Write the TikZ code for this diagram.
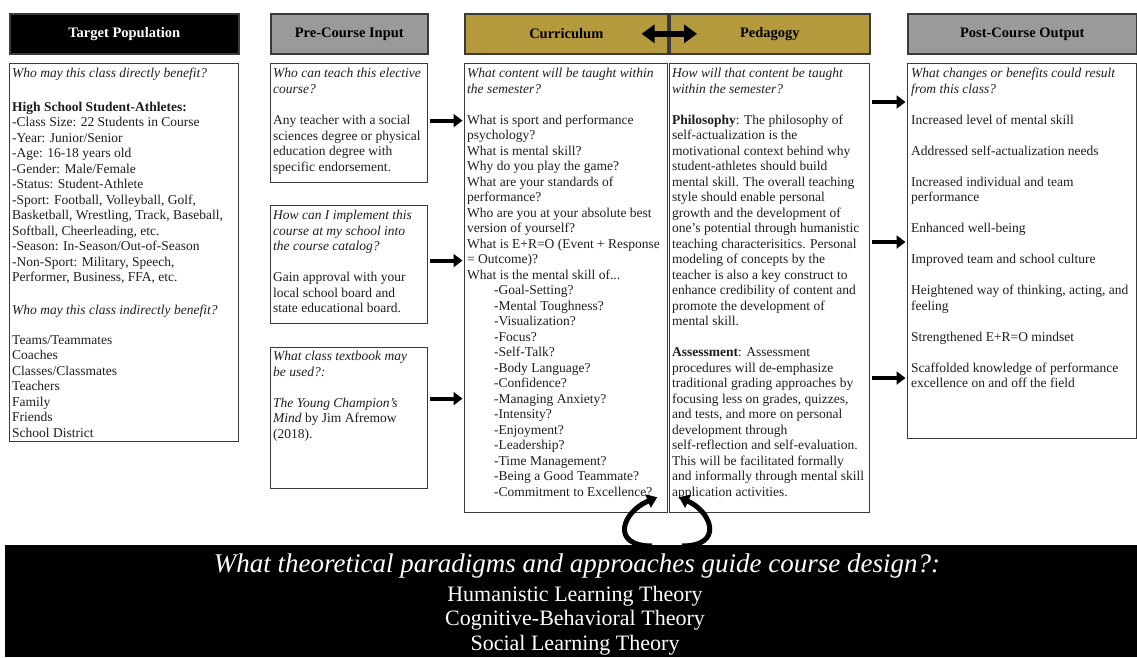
\documentclass[tikz,border=0pt]{standalone}
\usepackage{fontspec}
\setmainfont{Liberation Serif}
\usetikzlibrary{arrows.meta,calc}
\definecolor{gold}{HTML}{B5993D}
\definecolor{hgray}{HTML}{9A9A9A}
\definecolor{edge}{HTML}{3A3A3A}
\definecolor{ink}{HTML}{1E1E1E}
\begin{document}
\begin{tikzpicture}[x=1pt,y=-1pt,
  hdr/.style={draw=edge, line width=1.6pt, anchor=north west, inner sep=0,
    minimum height=40pt, font=\fontsize{14.5}{16}\selectfont\bfseries},
  boxx/.style={draw=edge, line width=1.2pt, anchor=north west, inner sep=0, fill=white},
  txt/.style={anchor=north west, inner sep=0, align=left, text=ink,
    font=\fontsize{13.5}{15.5}\selectfont},
  fat/.style={line width=4pt, -{Triangle[length=9pt,width=13pt]}},
  dbl/.style={line width=6pt, {Triangle[length=13pt,width=18pt]}-{Triangle[length=13pt,width=18pt]}},
  curl/.style={line width=5pt, -{Triangle[length=10pt,width=14pt]}},
]
\useasboundingbox (0,0) rectangle (1137,657);
\fill[white] (0,0) rectangle (1137,657);

% headers
\node[hdr, fill=black, text=white, minimum width=229pt] (tph) at (9,13) {Target Population};
\node[hdr, fill=hgray, minimum width=157pt] (pch) at (270,13) {Pre-Course Input};
\node[hdr, fill=gold, minimum width=203pt] (curh) at (464,13) {Curriculum};
\node[hdr, fill=gold, minimum width=200pt] (pedh) at (669,13) {Pedagogy};
\node[hdr, fill=hgray, minimum width=229pt] (posth) at (907,13) {Post-Course Output};

% boxes
\node[boxx, minimum width=229pt, minimum height=378pt] (tp) at (9,63) {};
\node[boxx, minimum width=157pt, minimum height=119pt] (teach) at (270,63) {};
\node[boxx, minimum width=157pt, minimum height=118pt] (impl) at (270,205) {};
\node[boxx, minimum width=157pt, minimum height=141pt] (book) at (270,347) {};
\node[boxx, minimum width=203pt, minimum height=449pt] (curr) at (464,63) {};
\node[boxx, minimum width=200pt, minimum height=449pt] (ped) at (669,63) {};
\node[boxx, minimum width=229pt, minimum height=375pt] (post) at (907,63) {};

% texts
\node[txt] (tpt) at (12,68) {\textit{Who may this class directly benefit?}\\[18pt]
\textbf{High School Student-Athletes:}\\
-Class Size: 22 Students in Course\\
-Year: Junior/Senior\\
-Age: 16-18 years old\\
-Gender: Male/Female\\
-Status: Student-Athlete\\
-Sport: Football, Volleyball, Golf,\\
Basketball, Wrestling, Track, Baseball,\\
Softball, Cheerleading, etc.\\
-Season: In-Season/Out-of-Season\\
-Non-Sport: Military, Speech,\\
Performer, Business, FFA, etc.\\[17pt]
\textit{Who may this class indirectly benefit?}\\[14.5pt]
Teams/Teammates\\
Coaches\\
Classes/Classmates\\
Teachers\\
Family\\
Friends\\
School District};

\node[txt] (teacht) at (273,68) {\textit{Who can teach this elective}\\
\textit{course?}\\[16pt]
Any teacher with a social\\
sciences degree or physical\\
education degree with\\
specific endorsement.};

\node[txt] (implt) at (273,210) {\textit{How can I implement this}\\
\textit{course at my school into}\\
\textit{the course catalog?}\\[15.5pt]
Gain approval with your\\
local school board and\\
state educational board.};

\node[txt] (bookt) at (273,351) {\textit{What class textbook may}\\
\textit{be used?:}\\[15.5pt]
\textit{The Young Champion's}\\
\textit{Mind} by Jim Afremow\\
(2018).};

\node[txt] (currt) at (467,68) {\textit{What content will be taught within}\\
\textit{the semester?}\\[15.5pt]
What is sport and performance\\
psychology?\\
What is mental skill?\\
Why do you play the game?\\
What are your standards of\\
performance?\\
Who are you at your absolute best\\
version of yourself?\\
What is E+R=O (Event + Response\\
= Outcome)?\\
What is the mental skill of...\\
\hspace*{27pt}-Goal-Setting?\\
\hspace*{27pt}-Mental Toughness?\\
\hspace*{27pt}-Visualization?\\
\hspace*{27pt}-Focus?\\
\hspace*{27pt}-Self-Talk?\\
\hspace*{27pt}-Body Language?\\
\hspace*{27pt}-Confidence?\\
\hspace*{27pt}-Managing Anxiety?\\
\hspace*{27pt}-Intensity?\\
\hspace*{27pt}-Enjoyment?\\
\hspace*{27pt}-Leadership?\\
\hspace*{27pt}-Time Management?\\
\hspace*{27pt}-Being a Good Teammate?\\
\hspace*{27pt}-Commitment to Excellence?};

\node[txt] (pedt) at (672,68) {\textit{How will that content be taught}\\
\textit{within the semester?}\\[15.5pt]
\textbf{Philosophy}: The philosophy of\\
self-actualization is the\\
motivational context behind why\\
student-athletes should build\\
mental skill. The overall teaching\\
style should enable personal\\
growth and the development of\\
one's potential through humanistic\\
teaching characterisitics. Personal\\
modeling of concepts by the\\
teacher is also a key construct to\\
enhance credibility of content and\\
promote the development of\\
mental skill.\\[15.5pt]
\textbf{Assessment}: Assessment\\
procedures will de-emphasize\\
traditional grading approaches by\\
focusing less on grades, quizzes,\\
and tests, and more on personal\\
development through\\
self-reflection and self-evaluation.\\
This will be facilitated formally\\
and informally through mental skill\\
application activities.};

\node[txt] (postt) at (911,68) {\textit{What changes or benefits could result}\\
\textit{from this class?}\\[15.5pt]
Increased level of mental skill\\[15.5pt]
Addressed self-actualization needs\\[15.5pt]
Increased individual and team\\
performance\\[15.5pt]
Enhanced well-being\\[15.5pt]
Improved team and school culture\\[15.5pt]
Heightened way of thinking, acting, and\\
feeling\\[15.5pt]
Strengthened E+R=O mindset\\[15.5pt]
Scaffolded knowledge of performance\\
excellence on and off the field};

% bottom band
\node[fill=black, anchor=north west, inner sep=0, minimum width=1132pt, minimum height=112pt] (band) at (5,545) {};
\node[text=white, font=\fontsize{27}{30}\selectfont\itshape, anchor=base] (q) at (577,572) {What theoretical paradigms and approaches guide course design?:};
\node[text=white, font=\fontsize{22}{26}\selectfont, anchor=base] (t1) at (575,601) {Humanistic Learning Theory};
\node[text=white, font=\fontsize{22}{26}\selectfont, anchor=base] (t2) at (575,625.5) {Cognitive-Behavioral Theory};
\node[text=white, font=\fontsize{22}{26}\selectfont, anchor=base] (t3) at (575,650) {Social Learning Theory};

% arrows pre-course -> curriculum
\coordinate (a1) at ($(teach.east)+(2,-2.5)$);
\coordinate (a2) at ($(impl.east)+(2,-4)$);
\coordinate (a3) at ($(book.east)+(2,-19.5)$);
\draw[fat, shorten >=1.5pt] (a1) -- (a1 -| curr.west);
\draw[fat, shorten >=1.5pt] (a2) -- (a2 -| curr.west);
\draw[fat, shorten >=1.5pt] (a3) -- (a3 -| curr.west);

% arrows pedagogy -> post
\coordinate (p1) at ($(ped.north east)+(1.5,39)$);
\coordinate (p2) at ($(ped.north east)+(1.5,179)$);
\coordinate (p3) at ($(ped.north east)+(1.5,315)$);
\draw[fat, shorten >=1.5pt] (p1) -- (p1 -| post.west);
\draw[fat, shorten >=1.5pt] (p2) -- (p2 -| post.west);
\draw[fat, shorten >=1.5pt] (p3) -- (p3 -| post.west);

% double arrow between curriculum and pedagogy
\draw[dbl] ($(curh.east)+(-27,0)$) -- ($(pedh.west)+(28,0)$);

% curls from band
\coordinate (cl) at ($(band.north west)+(647,1)$);
\coordinate (cr) at ($(band.north west)+(677,1)$);
\coordinate (el) at ($(curr.south east)+(-11,-16)$);
\coordinate (er) at ($(ped.south west)+(10,-16)$);
\draw[curl] (cl) .. controls (610,546) and (622,512) .. (el);
\draw[curl] (cr) .. controls (724,546) and (712,512) .. (er);
\end{tikzpicture}
\end{document}
